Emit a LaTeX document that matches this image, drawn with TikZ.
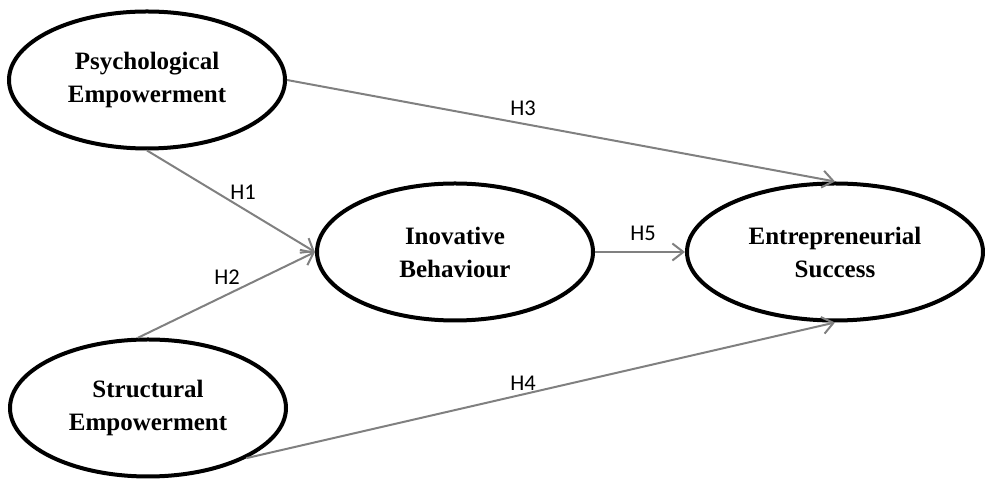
\documentclass[tikz,border=0pt]{standalone}
\usepackage{fontspec}
\setmainfont{Liberation Serif}
\newfontfamily\hypfont{Carlito}
\usetikzlibrary{shapes.geometric,arrows.meta}
\begin{document}
\begin{tikzpicture}[x=1pt,y=1pt,
                    construct/.style={ellipse,draw,line width=4pt,minimum width=276pt,minimum height=137pt,align=center,font=\fontsize{25}{33}\selectfont\bfseries},
                    path/.style={draw=gray,line width=2pt,-{Straight Barb[length=11pt,width=17pt]}},
                    hyp/.style={font=\fontsize{22.5}{26}\hypfont}]
                                \useasboundingbox (0,0) rectangle (985,481);
                                \node[construct] (pe) at (147,401){Psychological\\Empowerment};
                                \node[construct] (se) at (148,73){Structural\\Empowerment};
								\node[construct] (ib) at (455,229){Inovative\\Behaviour};
								\node[construct,minimum width=296pt] (es) at (835,229){Entrepreneurial\\Success};
                                \draw[path] (pe.south) -- (ib.west);
                                \draw[path] (se.98) -- (ib.west);
                                \draw[path] (pe.east) -- (es.north);
                                \draw[path] (se.-27) -- (es.south);
                                \draw[path] (ib.east) -- (es.west);
                                \node[hyp] (h1) at (243,289){H1};
                                \node[hyp] (h2) at (227,204){H2};
                                \node[hyp] (h3) at (523,373){H3};
                                \node[hyp] (h4) at (523,98){H4};
                                \node[hyp] (h5) at (643,248){H5};
					\end{tikzpicture}
\end{document}
